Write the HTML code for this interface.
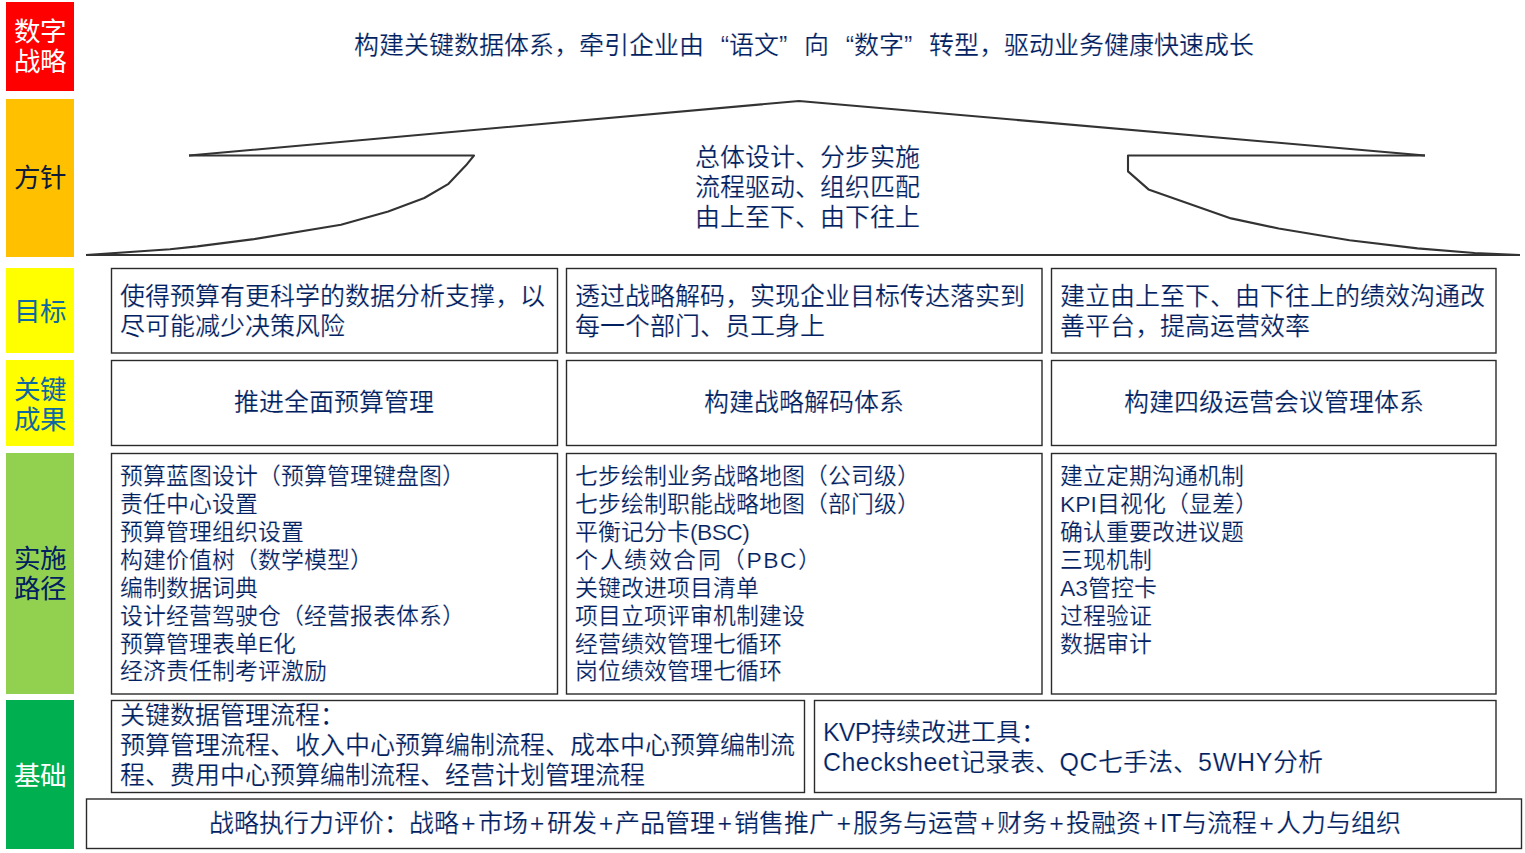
<!DOCTYPE html>
<html lang="zh-CN">
<head>
<meta charset="utf-8">
<style>
html,body{margin:0;padding:0;background:#fff;}
body{width:1525px;height:853px;position:relative;overflow:hidden;font-family:"Liberation Sans",sans-serif;color:#002060;}
.t{position:absolute;white-space:pre;font-size:25px;line-height:30px;-webkit-text-stroke:0.2px #fff;}
.s{font-size:22.9px;line-height:27.97px;}
.ql{display:inline-block;width:25px;text-align:right;}
.qr{display:inline-block;width:25px;text-align:left;}
.p{display:inline-block;width:18.9px;text-align:center;}
.lab{position:absolute;left:6px;width:68px;}
.lt{position:absolute;left:0;width:68px;text-align:center;white-space:pre;font-size:26.5px;line-height:30.3px;}
svg{position:absolute;left:0;top:0;}
.c{text-align:center;}
</style>
</head>
<body>
<!-- left labels -->
<div class="lab" style="top:2px;height:88.6px;background:#FF0000;"></div>
<div class="lab" style="top:99px;height:158px;background:#FFC000;"></div>
<div class="lab" style="top:268px;height:85px;background:#FFFF00;"></div>
<div class="lab" style="top:360px;height:86px;background:#FFFF00;"></div>
<div class="lab" style="top:453px;height:241px;background:#92D050;"></div>
<div class="lab" style="top:700px;height:149px;background:#00B050;"></div>

<svg width="1525" height="853" viewBox="0 0 1525 853">
 <g fill="none" stroke="#333" stroke-width="2.1" stroke-linejoin="round">
  <polyline points="189,155.5 799,101 1425,155.5"/>
  <polyline points="189,155.5 474,155.5 466,165.3 448.5,183.8 424.3,198 388.2,211.4 341,224.8 253.9,239.1 197.3,246.4 170,249.2 86,255"/>
  <polyline points="1425,155.5 1128,155.5 1128,171.4 1148.5,189.4 1231.1,218.4 1278.7,228.5 1349.5,240.2 1417.5,248.4 1474.6,253 1520,255"/>
  <line x1="86" y1="255" x2="1520" y2="255"/>
 </g>
 <g fill="none" stroke="#2a2a2a" stroke-width="1.4">
  <rect x="111.5" y="268.5" width="446" height="84.5"/>
  <rect x="566.5" y="268.5" width="475.5" height="84.5"/>
  <rect x="1051.5" y="268.5" width="444.5" height="84.5"/>
  <rect x="111.5" y="360.5" width="446" height="85"/>
  <rect x="566.5" y="360.5" width="475.5" height="85"/>
  <rect x="1051.5" y="360.5" width="444.5" height="85"/>
  <rect x="111.5" y="453.5" width="446" height="240.5"/>
  <rect x="566.5" y="453.5" width="475.5" height="240.5"/>
  <rect x="1051.5" y="453.5" width="444.5" height="240.5"/>
  <rect x="111.5" y="700.5" width="693" height="92"/>
  <rect x="814.5" y="700.5" width="681.5" height="92"/>
  <rect x="86.5" y="799" width="1435" height="49.5"/>
 </g>
</svg>

<!-- label texts -->
<div class="lt" style="left:6px;top:16.6px;color:#fff;">数字
战略</div>
<div class="lt" style="left:6px;top:162.8px;color:#0d1a3a;">方针</div>
<div class="lt" style="left:6px;top:297.3px;color:#0D69A0;">目标</div>
<div class="lt" style="left:6px;top:374.5px;color:#0D69A0;">关键
成果</div>
<div class="lt" style="left:6px;top:543.5px;color:#002060;">实施
路径</div>
<div class="lt" style="left:6px;top:760.5px;color:#fff;">基础</div>

<!-- title -->
<div class="t" style="left:354px;top:29.5px;">构建关键数据体系，牵引企业由<span class="ql">“</span>语文<span class="qr">”</span>向<span class="ql">“</span>数字<span class="qr">”</span>转型，驱动业务健康快速成长</div>
<div class="t" style="left:695px;top:141.8px;">总体设计、分步实施
流程驱动、组织匹配
由上至下、由下往上</div>

<!-- row1 -->
<div class="t" style="left:120px;top:281px;">使得预算有更科学的数据分析支撑，以
尽可能减少决策风险</div>
<div class="t" style="left:575px;top:281px;">透过战略解码，实现企业目标传达落实到
每一个部门、员工身上</div>
<div class="t" style="left:1060px;top:281px;">建立由上至下、由下往上的绩效沟通改
善平台，提高运营效率</div>

<!-- row2 -->
<div class="t c" style="left:111px;width:446px;top:387px;">推进全面预算管理</div>
<div class="t c" style="left:566px;width:476px;top:387px;">构建战略解码体系</div>
<div class="t c" style="left:1051px;width:445px;top:387px;">构建四级运营会议管理体系</div>

<!-- row3 -->
<div class="t s" style="left:120px;top:462.7px;">预算蓝图设计（预算管理键盘图）
责任中心设置
预算管理组织设置
构建价值树（数学模型）
编制数据词典
设计经营驾驶仓（经营报表体系）
预算管理表单E化
经济责任制考评激励</div>
<div class="t s" style="left:575px;top:462.7px;">七步绘制业务战略地图（公司级）
七步绘制职能战略地图（部门级）
平衡记分卡<span style="letter-spacing:-0.6px">(BSC)</span>
<span style="letter-spacing:1.5px">个人绩效合同（PBC</span>）
关键改进项目清单
项目立项评审机制建设
经营绩效管理七循环
岗位绩效管理七循环</div>
<div class="t s" style="left:1060px;top:462.7px;">建立定期沟通机制
KPI目视化（显差）
确认重要改进议题
三现机制
A3管控卡
过程验证
数据审计</div>

<!-- row4 -->
<div class="t" style="left:120px;top:700px;">关键数据管理流程：
预算管理流程、收入中心预算编制流程、成本中心预算编制流
程、费用中心预算编制流程、经营计划管理流程</div>
<div class="t" style="left:823px;top:716.5px;"><span style="letter-spacing:-0.8px">KVP</span>持续改进工具：
<span style="letter-spacing:0.45px">Checksheet</span>记录表、<span style="letter-spacing:0.5px">QC</span>七手法、<span style="letter-spacing:0.7px">5WHY</span>分析</div>

<!-- row5 -->
<div class="t c" style="left:86.9px;width:1436px;top:808px;">战略执行力评价：战略<span class="p">+</span>市场<span class="p">+</span>研发<span class="p">+</span>产品管理<span class="p">+</span>销售推广<span class="p">+</span>服务与运营<span class="p">+</span>财务<span class="p">+</span>投融资<span class="p">+</span>IT与流程<span class="p">+</span>人力与组织</div>
</body>
</html>
